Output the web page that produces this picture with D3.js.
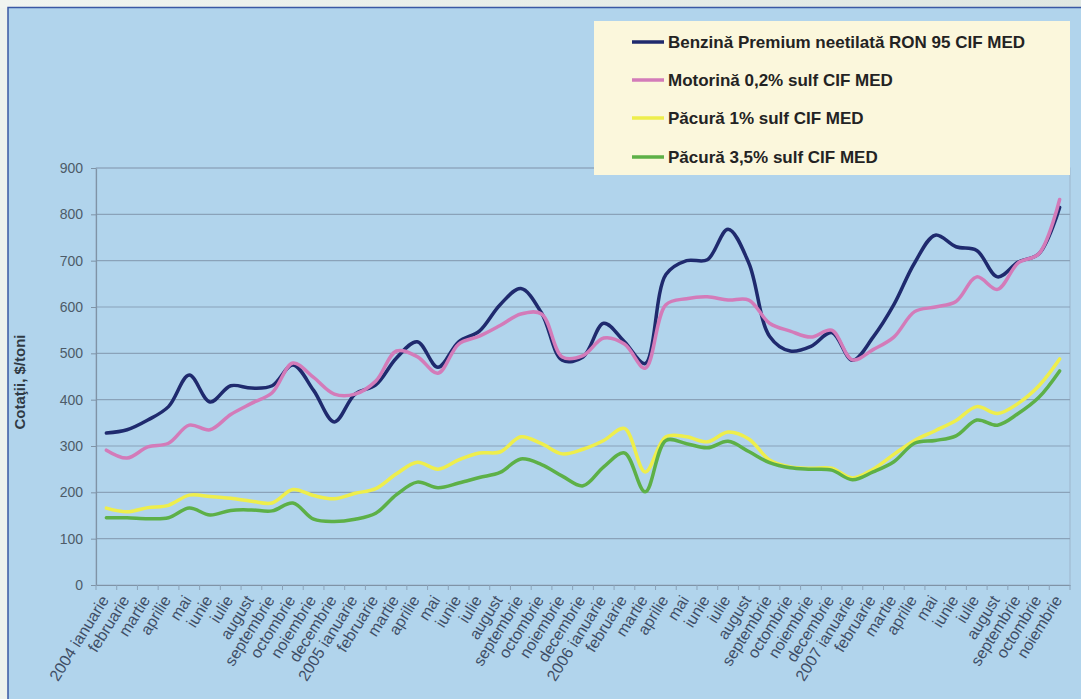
<!DOCTYPE html>
<html>
<head>
<meta charset="utf-8">
<script src="https://cdn.jsdelivr.net/npm/d3@7"></script>
<style>
  html, body { margin: 0; padding: 0; background: #eef2ee; }
  svg { display: block; }
  text { font-family: "Liberation Sans", Arial, sans-serif; }
</style>
</head>
<body>
<svg id="chart" width="1081" height="699"></svg>
<script>
var months = [
  "2004 ianuarie", "februarie", "martie", "aprilie", "mai", "iunie", "iulie", "august",
  "septembrie", "octombrie", "noiembrie", "decembrie",
  "2005 ianuarie", "februarie", "martie", "aprilie", "mai", "iunie", "iulie", "august",
  "septembrie", "octombrie", "noiembrie", "decembrie",
  "2006 ianuarie", "februarie", "martie", "aprilie", "mai", "iunie", "iulie", "august",
  "septembrie", "octombrie", "noiembrie", "decembrie",
  "2007 ianuarie", "februarie", "martie", "aprilie", "mai", "iunie", "iulie", "august",
  "septembrie", "octombrie", "noiembrie"
];

var benzina = [328, 335, 356, 385, 453, 395, 430, 425, 430, 475, 420, 352,
               412, 432, 490, 525, 470, 525, 548, 605, 640, 587, 485, 492,
               565, 525, 478, 670, 700, 702, 768, 695, 537, 505, 515, 545,
               485, 535, 605, 695, 755, 730, 722, 665, 697, 715, 815];

var motorina = [291, 274, 298, 306, 345, 335, 368, 392, 415, 479, 448, 412,
                412, 440, 505, 493, 457, 520, 537, 560, 585, 585, 492, 495,
                533, 520, 468, 605, 618, 622, 615, 615, 565, 548, 535, 550,
                486, 508, 535, 590, 600, 612, 665, 638, 695, 715, 832];

var pacura1 = [166, 158, 167, 172, 194, 191, 187, 181, 177, 206, 193, 186,
               198, 208, 240, 265, 250, 270, 285, 287, 320, 305, 283, 293,
               312, 338, 244, 320, 320, 309, 330, 315, 270, 255, 252, 252,
               231, 250, 282, 312, 333, 355, 385, 370, 392, 430, 488];

var pacura35 = [145, 145, 143, 145, 166, 151, 161, 162, 160, 177, 142, 137,
                142, 155, 195, 222, 210, 220, 232, 243, 272, 260, 235, 214,
                255, 285, 201, 312, 305, 296, 310, 288, 264, 253, 250, 248,
                227, 244, 266, 306, 312, 322, 356, 345, 370, 405, 462];

var seriesNames = ["Benzină Premium neetilată RON 95 CIF MED", "Motorină 0,2% sulf CIF MED",
                   "Păcură 1% sulf CIF MED", "Păcură 3,5% sulf CIF MED"];
var seriesColors = ["#1f2a6e", "#d37bb9", "#eeee4c", "#5db047"];
var yTicks = [0, 100, 200, 300, 400, 500, 600, 700, 800, 900];

var svg = d3.select("#chart");

// page background with soft top gradient
var defs = svg.append("defs");
var grad = defs.append("linearGradient").attr("id", "topgrad")
    .attr("x1", 0).attr("x2", 1).attr("y1", 0).attr("y2", 0);
grad.append("stop").attr("offset", "0%").attr("stop-color", "#f0f4f0");
grad.append("stop").attr("offset", "100%").attr("stop-color", "#dfe7e2");
svg.append("rect").attr("x", 0).attr("y", 0).attr("width", 1081).attr("height", 8)
    .attr("fill", "url(#topgrad)");

// chart frame
svg.append("rect")
    .attr("x", 8).attr("y", 7.5)
    .attr("width", 1090).attr("height", 710)
    .attr("fill", "#b1d4ec")
    .attr("stroke", "#3a58a4")
    .attr("stroke-width", 1.5);

var plotLeft = 96, plotRight = 1070, plotTop = 168, plotBottom = 585;

var x = d3.scaleBand().domain(d3.range(months.length)).range([plotLeft, plotRight]);
var y = d3.scaleLinear().domain([0, 900]).range([plotBottom, plotTop]);

// plot area border
svg.append("rect")
    .attr("x", plotLeft).attr("y", plotTop)
    .attr("width", plotRight - plotLeft).attr("height", plotBottom - plotTop)
    .attr("fill", "none")
    .attr("stroke", "#9db5cc")
    .attr("stroke-width", 1);

// gridlines
svg.append("g")
  .selectAll("line")
  .data(yTicks.filter(function (d) { return d > 0; }))
  .join("line")
    .attr("x1", plotLeft).attr("x2", plotRight)
    .attr("y1", function (d) { return y(d); })
    .attr("y2", function (d) { return y(d); })
    .attr("stroke", "#8aa2b9")
    .attr("stroke-width", 1.2);

// y axis
var yAxis = svg.append("g")
    .attr("transform", "translate(" + plotLeft + ",0)")
    .call(d3.axisLeft(y).tickValues(yTicks).tickSize(5).tickSizeOuter(0).tickPadding(8));
yAxis.select(".domain").attr("stroke", "#7f93a6").attr("stroke-width", 1.2);
yAxis.selectAll(".tick line").attr("stroke", "#7f93a6");
yAxis.selectAll(".tick text")
    .attr("font-size", 14)
    .attr("fill", "#4d5b68")
    .attr("font-family", "'Liberation Sans', Arial, sans-serif");

// x axis
var xAxis = svg.append("g")
    .attr("transform", "translate(0," + plotBottom + ")")
    .call(d3.axisBottom(x).tickSize(0).tickSizeOuter(0)
          .tickFormat(function (i) { return months[i]; }));
xAxis.select(".domain").attr("stroke", "#7f93a6").attr("stroke-width", 1.2);
xAxis.selectAll(".tick text")
    .attr("font-size", 16)
    .attr("fill", "#3f4e66")
    .attr("font-family", "'Liberation Sans', Arial, sans-serif")
    .attr("text-anchor", "end")
    .attr("dy", null)
    .attr("y", 0)
    .attr("transform", "translate(3,15) rotate(-58)");

// tick marks between categories
svg.append("g")
  .selectAll("line")
  .data(d3.range(months.length + 1))
  .join("line")
    .attr("x1", function (i) { return plotLeft + i * x.step(); })
    .attr("x2", function (i) { return plotLeft + i * x.step(); })
    .attr("y1", plotBottom).attr("y2", plotBottom + 5)
    .attr("stroke", "#8aa2b9");

// y axis title
svg.append("text")
    .attr("transform", "translate(25,382) rotate(-90)")
    .attr("text-anchor", "middle")
    .attr("font-size", 15)
    .attr("font-weight", "bold")
    .attr("fill", "#2f3a44")
    .text("Cotaţii, $/toni");

// lines
var line = d3.line()
    .x(function (d, i) { return x(i) + x.bandwidth() / 2; })
    .y(function (d) { return y(d); })
    .curve(d3.curveCatmullRom.alpha(0.5));

var allSeries = [benzina, motorina, pacura1, pacura35];
svg.append("g")
  .selectAll("path")
  .data(allSeries)
  .join("path")
    .attr("d", function (d) { return line(d); })
    .attr("fill", "none")
    .attr("stroke", function (d, i) { return seriesColors[i]; })
    .attr("stroke-width", 3.5)
    .attr("stroke-linejoin", "round")
    .attr("stroke-linecap", "round");

// legend
var legend = svg.append("g");
legend.append("rect")
    .attr("x", 594).attr("y", 21)
    .attr("width", 476).attr("height", 154)
    .attr("fill", "#fbf7dc");

var rowY = [42, 80, 118, 157];
var items = legend.selectAll("g.item")
  .data(seriesNames)
  .join("g")
    .attr("class", "item")
    .attr("transform", function (d, i) { return "translate(0," + rowY[i] + ")"; });
items.append("line")
    .attr("x1", 632).attr("x2", 664)
    .attr("y1", 0).attr("y2", 0)
    .attr("stroke", function (d, i) { return seriesColors[i]; })
    .attr("stroke-width", 3.5);
items.append("text")
    .attr("x", 668).attr("y", 6)
    .attr("font-size", 17)
    .attr("font-weight", "bold")
    .attr("fill", "#232323")
    .text(function (d) { return d; });
</script>
</body>
</html>
